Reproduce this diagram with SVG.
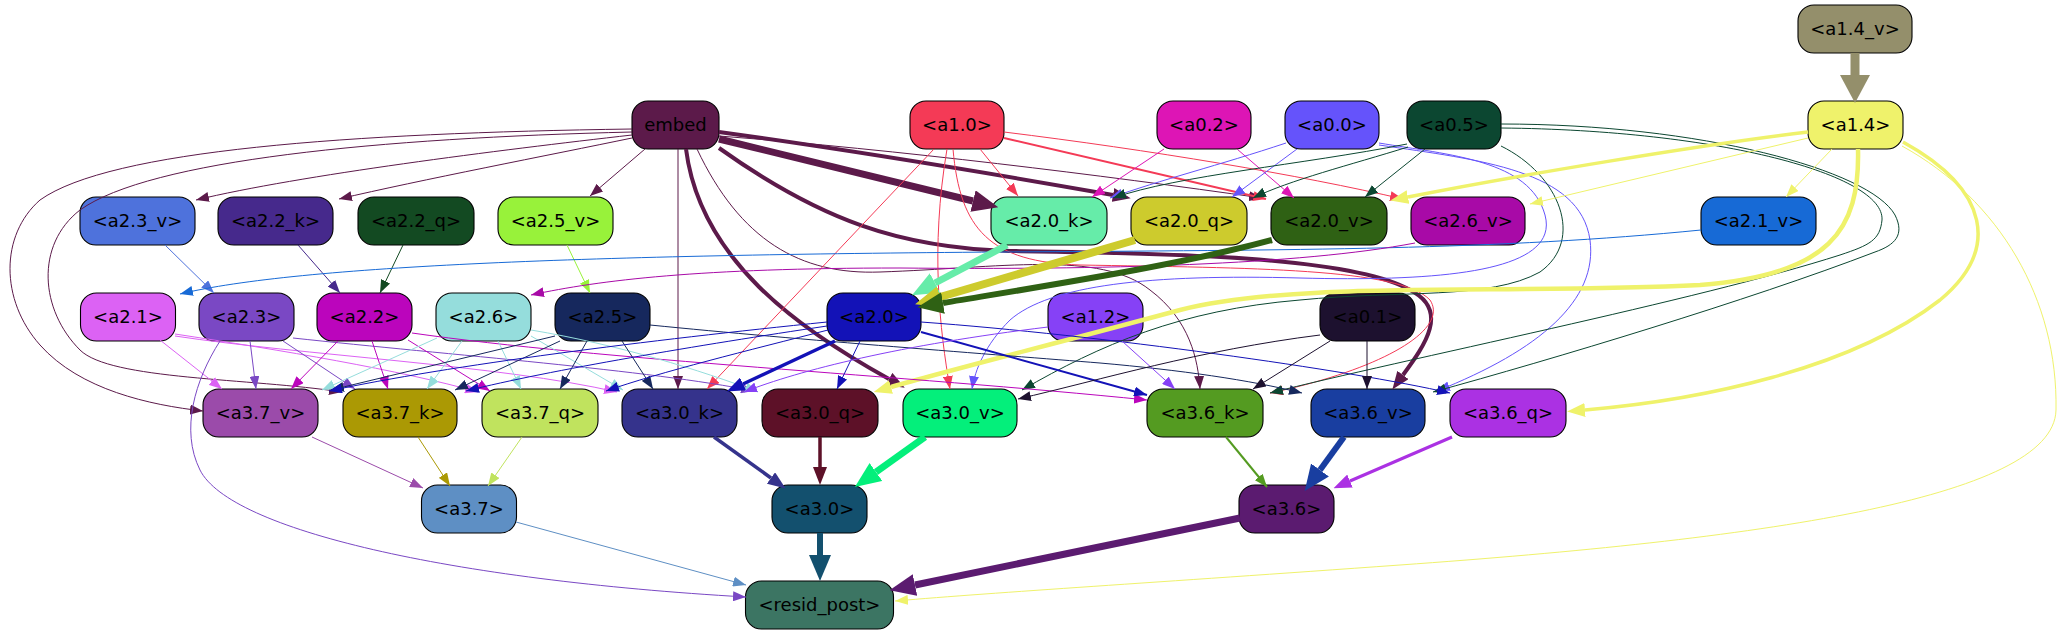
<svg xmlns="http://www.w3.org/2000/svg" width="2061" height="635" viewBox="0 0 2061 635">
<style>
.n rect{stroke:#000;stroke-width:1.1}
.n text{font-family:"DejaVu Sans","Liberation Sans",sans-serif;font-size:18px;fill:#000;text-anchor:middle}
#edges path{fill:none}
.t{stroke-width:1;marker-end:url(#ms)}
.t2{stroke-width:2;marker-end:url(#ms)}
.m{marker-end:url(#mm)}
.l{marker-end:url(#ml)}
.x{marker-end:url(#mx)}
.cE{stroke:#5c1a4a}.c10{stroke:#f43a56}.c02{stroke:#dd15b5}.c00{stroke:#6553fb}.c05{stroke:#0c4731}
.c14{stroke:#eff26b}.c14v{stroke:#948f6b}.c23v{stroke:#4e72dc}.c22k{stroke:#46298c}.c22q{stroke:#134a22}
.c25v{stroke:#98f23a}.c21v{stroke:#176ad6}.c26v{stroke:#a80aa7}.c20k{stroke:#66eca9}.c20q{stroke:#cdcb2d}
.c20v{stroke:#2f6114}.c21{stroke:#dc62f4}.c23{stroke:#7a48c4}.c22{stroke:#bb05bc}.c26{stroke:#95dddc}
.c25{stroke:#16285d}.c20{stroke:#1312b7}.c12{stroke:#8641f6}.c01{stroke:#1d112f}.c37v{stroke:#9b4baa}
.c37k{stroke:#ab9904}.c37q{stroke:#c0e35e}.c30k{stroke:#35338c}.c30q{stroke:#5d1128}.c30v{stroke:#04ef7b}
.c36k{stroke:#549b21}.c36v{stroke:#193ea0}.c36q{stroke:#ab31e3}.c37{stroke:#5e8fc4}.c30{stroke:#13506e}.c36{stroke:#5b1b70}
</style>
<defs>
<marker id="ms" viewBox="0 0 13 10" refX="13" refY="5" markerWidth="13" markerHeight="10" markerUnits="userSpaceOnUse" orient="auto"><path d="M0,0L13,5L0,10z" fill="context-stroke" stroke="none"/></marker>
<marker id="mm" viewBox="0 0 18 14" refX="0" refY="7" markerWidth="18" markerHeight="14" markerUnits="userSpaceOnUse" orient="auto"><path d="M0,0L18,7L0,14z" fill="context-stroke" stroke="none"/></marker>
<marker id="ml" viewBox="0 0 26 22" refX="0" refY="11" markerWidth="26" markerHeight="22" markerUnits="userSpaceOnUse" orient="auto"><path d="M0,0L26,11L0,22z" fill="context-stroke" stroke="none"/></marker>
<marker id="mx" viewBox="0 0 28 30" refX="0" refY="15" markerWidth="28" markerHeight="30" markerUnits="userSpaceOnUse" orient="auto"><path d="M0,0L28,15L0,30z" fill="context-stroke" stroke="none"/></marker>
</defs>
<rect width="2061" height="635" fill="#fff"/>
<g id="nodes">
<g id="n-a1.4_v" class="n"><rect x="1798" y="5" width="114" height="48" rx="16" fill="#948f6b"/><text x="1855" y="35">&lt;a1.4_v&gt;</text></g>
<g id="n-embed" class="n"><rect x="632" y="101" width="87" height="48" rx="16" fill="#5c1a4a"/><text x="675.5" y="131">embed</text></g>
<g id="n-a1.0" class="n"><rect x="910" y="101" width="94" height="48" rx="16" fill="#f43a56"/><text x="957" y="131">&lt;a1.0&gt;</text></g>
<g id="n-a0.2" class="n"><rect x="1157" y="101" width="94" height="48" rx="16" fill="#dd15b5"/><text x="1204" y="131">&lt;a0.2&gt;</text></g>
<g id="n-a0.0" class="n"><rect x="1285" y="101" width="94" height="48" rx="16" fill="#6553fb"/><text x="1332" y="131">&lt;a0.0&gt;</text></g>
<g id="n-a0.5" class="n"><rect x="1407" y="101" width="94" height="48" rx="16" fill="#0c4731"/><text x="1454" y="131">&lt;a0.5&gt;</text></g>
<g id="n-a1.4" class="n"><rect x="1808" y="101" width="95" height="48" rx="16" fill="#eff26b"/><text x="1855.5" y="131">&lt;a1.4&gt;</text></g>
<g id="n-a2.3_v" class="n"><rect x="80" y="197" width="115" height="48" rx="16" fill="#4e72dc"/><text x="137.5" y="227">&lt;a2.3_v&gt;</text></g>
<g id="n-a2.2_k" class="n"><rect x="218" y="197" width="115" height="48" rx="16" fill="#46298c"/><text x="275.5" y="227">&lt;a2.2_k&gt;</text></g>
<g id="n-a2.2_q" class="n"><rect x="358" y="197" width="116" height="48" rx="16" fill="#134a22"/><text x="416" y="227">&lt;a2.2_q&gt;</text></g>
<g id="n-a2.5_v" class="n"><rect x="498" y="197" width="115" height="48" rx="16" fill="#98f23a"/><text x="555.5" y="227">&lt;a2.5_v&gt;</text></g>
<g id="n-a2.0_k" class="n"><rect x="991" y="197" width="116" height="48" rx="16" fill="#66eca9"/><text x="1049" y="227">&lt;a2.0_k&gt;</text></g>
<g id="n-a2.0_q" class="n"><rect x="1131" y="197" width="116" height="48" rx="16" fill="#cdcb2d"/><text x="1189" y="227">&lt;a2.0_q&gt;</text></g>
<g id="n-a2.0_v" class="n"><rect x="1271" y="197" width="116" height="48" rx="16" fill="#2f6114"/><text x="1329" y="227">&lt;a2.0_v&gt;</text></g>
<g id="n-a2.6_v" class="n"><rect x="1411" y="197" width="114" height="48" rx="16" fill="#a80aa7"/><text x="1468" y="227">&lt;a2.6_v&gt;</text></g>
<g id="n-a2.1_v" class="n"><rect x="1701" y="197" width="115" height="48" rx="16" fill="#176ad6"/><text x="1758.5" y="227">&lt;a2.1_v&gt;</text></g>
<g id="n-a2.1" class="n"><rect x="80.5" y="293" width="95" height="48" rx="16" fill="#dc62f4"/><text x="128" y="323">&lt;a2.1&gt;</text></g>
<g id="n-a2.3" class="n"><rect x="199" y="293" width="95" height="48" rx="16" fill="#7a48c4"/><text x="246.5" y="323">&lt;a2.3&gt;</text></g>
<g id="n-a2.2" class="n"><rect x="317" y="293" width="95" height="48" rx="16" fill="#bb05bc"/><text x="364.5" y="323">&lt;a2.2&gt;</text></g>
<g id="n-a2.6" class="n"><rect x="436" y="293" width="95" height="48" rx="16" fill="#95dddc"/><text x="483.5" y="323">&lt;a2.6&gt;</text></g>
<g id="n-a2.5" class="n"><rect x="555" y="293" width="95" height="48" rx="16" fill="#16285d"/><text x="602.5" y="323">&lt;a2.5&gt;</text></g>
<g id="n-a2.0" class="n"><rect x="827" y="293" width="94" height="48" rx="16" fill="#1312b7"/><text x="874" y="323">&lt;a2.0&gt;</text></g>
<g id="n-a1.2" class="n"><rect x="1048" y="293" width="95" height="48" rx="16" fill="#8641f6"/><text x="1095.5" y="323">&lt;a1.2&gt;</text></g>
<g id="n-a0.1" class="n"><rect x="1320" y="293" width="95" height="48" rx="16" fill="#1d112f"/><text x="1367.5" y="323">&lt;a0.1&gt;</text></g>
<g id="n-a3.7_v" class="n"><rect x="203" y="389" width="115" height="48" rx="16" fill="#9b4baa"/><text x="260.5" y="419">&lt;a3.7_v&gt;</text></g>
<g id="n-a3.7_k" class="n"><rect x="343" y="389" width="114" height="48" rx="16" fill="#ab9904"/><text x="400" y="419">&lt;a3.7_k&gt;</text></g>
<g id="n-a3.7_q" class="n"><rect x="482" y="389" width="116" height="48" rx="16" fill="#c0e35e"/><text x="540" y="419">&lt;a3.7_q&gt;</text></g>
<g id="n-a3.0_k" class="n"><rect x="622" y="389" width="115" height="48" rx="16" fill="#35338c"/><text x="679.5" y="419">&lt;a3.0_k&gt;</text></g>
<g id="n-a3.0_q" class="n"><rect x="762" y="389" width="116" height="48" rx="16" fill="#5d1128"/><text x="820" y="419">&lt;a3.0_q&gt;</text></g>
<g id="n-a3.0_v" class="n"><rect x="903" y="389" width="114" height="48" rx="16" fill="#04ef7b"/><text x="960" y="419">&lt;a3.0_v&gt;</text></g>
<g id="n-a3.6_k" class="n"><rect x="1147" y="389" width="116" height="48" rx="16" fill="#549b21"/><text x="1205" y="419">&lt;a3.6_k&gt;</text></g>
<g id="n-a3.6_v" class="n"><rect x="1311" y="389" width="114" height="48" rx="16" fill="#193ea0"/><text x="1368" y="419">&lt;a3.6_v&gt;</text></g>
<g id="n-a3.6_q" class="n"><rect x="1450" y="389" width="116" height="48" rx="16" fill="#ab31e3"/><text x="1508" y="419">&lt;a3.6_q&gt;</text></g>
<g id="n-a3.7" class="n"><rect x="421.5" y="485" width="95" height="48" rx="16" fill="#5e8fc4"/><text x="469" y="515">&lt;a3.7&gt;</text></g>
<g id="n-a3.0" class="n"><rect x="772" y="485" width="95" height="48" rx="16" fill="#13506e"/><text x="819.5" y="515">&lt;a3.0&gt;</text></g>
<g id="n-a3.6" class="n"><rect x="1239" y="485" width="95" height="48" rx="16" fill="#5b1b70"/><text x="1286.5" y="515">&lt;a3.6&gt;</text></g>
<g id="n-resid_post" class="n"><rect x="745.5" y="581" width="148" height="48" rx="16" fill="#3c7563"/><text x="819.5" y="611">&lt;resid_post&gt;</text></g>
</g>
<g id="edges">
<path class="x c14v" stroke-width="9" d="M1855,53 L1855,75"/>
<path class="t cE" d="M632,135 C500,150 300,175 196,200"/>
<path class="t cE" d="M632,138 C550,155 420,180 339,199"/>
<path class="t cE" d="M645,149 L590,196"/>
<path class="t cE" d="M632,129 C350,133 110,150 40,200 C0,235 0,300 40,345 C80,390 150,405 203,411"/>
<path class="t cE" d="M632,132 C380,138 150,160 80,210 C35,245 40,310 80,350 C110,380 250,378 342,392"/>
<path class="t cE" d="M678,149 L678,389"/>
<path class="m cE" stroke-width="4" d="M686,149 C700,260 800,330 889,379"/>
<path class="l cE" stroke-width="7" d="M719,139 L973,201"/>
<path class="m cE" stroke-width="4" d="M719,132 C850,150 1000,175 1113,195"/>
<path class="m cE" stroke-width="4" d="M719,148 C820,220 900,248 1010,251 C1150,253 1350,255 1410,290 C1450,310 1425,345 1403,375"/>
<path class="t cE" d="M697,149 C740,240 800,275 880,272 C1000,268 1100,250 1150,290 C1190,320 1198,360 1200,389"/>
<path class="t cE" d="M719,136 C900,150 1100,175 1262,198"/>
<path class="t c10" d="M980,149 L1018,196"/>
<path class="t2 c10" d="M1004,138 L1266,199"/>
<path class="t c10" d="M1004,132 C1150,150 1300,175 1403,199"/>
<path class="t c10" d="M934,149 L707,389"/>
<path class="t c10" d="M947,149 C930,250 940,330 950,389"/>
<path class="t c10" d="M953,149 C960,230 990,262 1080,265 C1250,268 1400,268 1430,300 C1450,330 1380,370 1270,393"/>
<path class="t c02" d="M1164,149 L1092,197"/>
<path class="t c02" d="M1237,149 L1294,198"/>
<path class="t c00" d="M1286,143 C1220,165 1160,180 1110,198"/>
<path class="t c00" d="M1297,149 L1232,197"/>
<path class="t c00" d="M1379,143 C1450,155 1530,160 1545,215 C1560,270 1450,282 1300,278 C1150,274 1050,285 1010,320 C985,345 975,370 972,389"/>
<path class="t c00" d="M1379,145 C1480,160 1580,170 1590,240 C1598,300 1540,350 1437,391"/>
<path class="t c05" stroke-width="1.5" d="M1407,144 C1300,165 1180,175 1113,198"/>
<path class="t c05" d="M1408,147 C1350,165 1290,180 1253,198"/>
<path class="t c05" d="M1425,149 L1365,197"/>
<path class="t c05" d="M1501,146 C1560,175 1585,240 1540,272 C1490,300 1400,290 1300,300 C1180,310 1100,345 1022,390"/>
<path class="t c05" d="M1501,128 C1720,130 1885,175 1882,220 C1880,240 1870,245 1840,255 C1700,300 1400,360 1270,393"/>
<path class="t c05" d="M1501,124 C1700,124 1870,170 1895,215 C1905,235 1895,245 1875,252 C1750,300 1550,360 1433,392"/>
<path class="m c14" stroke-width="3.5" d="M1808,132 C1700,145 1520,175 1408,197"/>
<path class="t c14" d="M1808,138 L1530,204"/>
<path class="t c14" d="M1832,149 L1786,197"/>
<path class="m c14" stroke-width="3.5" d="M1903,142 C1990,190 2000,250 1940,300 C1850,370 1700,400 1585,410"/>
<path class="t c14" d="M1902,146 C2000,200 2058,300 2056,410 C2054,500 1750,540 1400,565 C1150,583 1000,592 895,601"/>
<path class="m c14" stroke-width="4.5" d="M1858,149 C1860,230 1830,275 1700,285 C1500,295 1300,280 1180,310 C1050,345 950,370 891,387"/>
<path class="t c23v" d="M165,245 L214,293"/>
<path class="t c22k" d="M298,245 L340,293"/>
<path class="t c22q" d="M403,245 L380,293"/>
<path class="t c25v" d="M567,245 L590,293"/>
<path class="t c21v" stroke-width="1.3" d="M1701,230 C1500,250 1300,250 1000,252 C600,255 300,265 180,294"/>
<path class="t c26v" d="M1415,243 C1300,265 1100,270 900,268 C700,268 600,280 531,295"/>
<path class="l c20k" stroke-width="7" d="M1007,245 L935,283"/>
<path class="l c20q" stroke-width="8" d="M1135,240 L940,297"/>
<path class="l c20v" stroke-width="6" d="M1272,240 C1180,265 1050,285 943,303"/>
<path class="t c21" d="M160,340 L222,389"/>
<path class="t c21" d="M175,334 C280,350 400,370 478,392"/>
<path class="t c21" d="M175,336 C300,355 500,365 617,392"/>
<path class="t c23" d="M250,341 L256,389"/>
<path class="t c23" d="M283,341 L355,389"/>
<path class="t c23" stroke-width="1.5" d="M293,338 C450,355 650,370 754,391"/>
<path class="t c23" d="M220,341 C195,380 180,430 200,470 C230,530 450,580 746,597"/>
<path class="t c22" d="M338,341 L291,389"/>
<path class="t c22" d="M372,341 L388,389"/>
<path class="t c22" d="M408,340 L490,391"/>
<path class="t c22" d="M412,333 C600,360 900,375 1147,400"/>
<path class="t c26" d="M437,338 L322,390"/>
<path class="t c26" d="M462,341 L427,389"/>
<path class="t c26" d="M498,341 L521,389"/>
<path class="t c26" d="M531,336 L623,390"/>
<path class="t c26" d="M531,330 C620,345 700,370 758,392"/>
<path class="t c25" d="M555,336 L331,390"/>
<path class="t c25" d="M560,341 L455,390"/>
<path class="t c25" d="M587,341 L560,389"/>
<path class="t c25" d="M622,341 L653,389"/>
<path class="t c25" d="M650,325 C800,340 1000,355 1100,363 C1180,370 1250,380 1302,393"/>
<path class="t c20" d="M827,322 C650,340 450,365 329,391"/>
<path class="t c20" d="M827,326 C700,345 550,370 466,391"/>
<path class="t c20" d="M828,330 C750,350 660,372 606,391"/>
<path class="m c20" stroke-width="3.5" d="M835,341 L743,384"/>
<path class="t c20" d="M860,341 L837,389"/>
<path class="t2 c20" stroke-width="2.5" d="M921,332 L1147,395"/>
<path class="t c20" d="M921,322 C1100,335 1350,370 1450,393"/>
<path class="t c12" d="M1048,327 C900,345 800,370 744,392"/>
<path class="t c12" d="M1122,341 L1175,389"/>
<path class="t c01" d="M1320,335 C1200,350 1100,380 1018,399"/>
<path class="t c01" d="M1330,341 L1253,389"/>
<path class="t c01" d="M1367,341 L1367,389"/>
<path class="t c37v" d="M312,437 L423,488"/>
<path class="t c37k" d="M418,437 L450,486"/>
<path class="t c37q" d="M522,437 L488,486"/>
<path class="m c30k" stroke-width="3.5" d="M714,437 L771,478"/>
<path class="m c30q" stroke-width="3.5" d="M820,437 L820,467"/>
<path class="l c30v" stroke-width="7" d="M925,437 L876,472"/>
<path class="t2 c36k" d="M1226,437 L1267,487"/>
<path class="l c36v" stroke-width="6" d="M1344,437 L1320,470"/>
<path class="m c36q" stroke-width="3" d="M1452,437 L1350,481"/>
<path class="t c37" d="M516,522 L746,585"/>
<path class="l c30" stroke-width="6" d="M820,533 L820,555"/>
<path class="l c36" stroke-width="7" d="M1240,518 L915,585"/>
</g>
</svg>
